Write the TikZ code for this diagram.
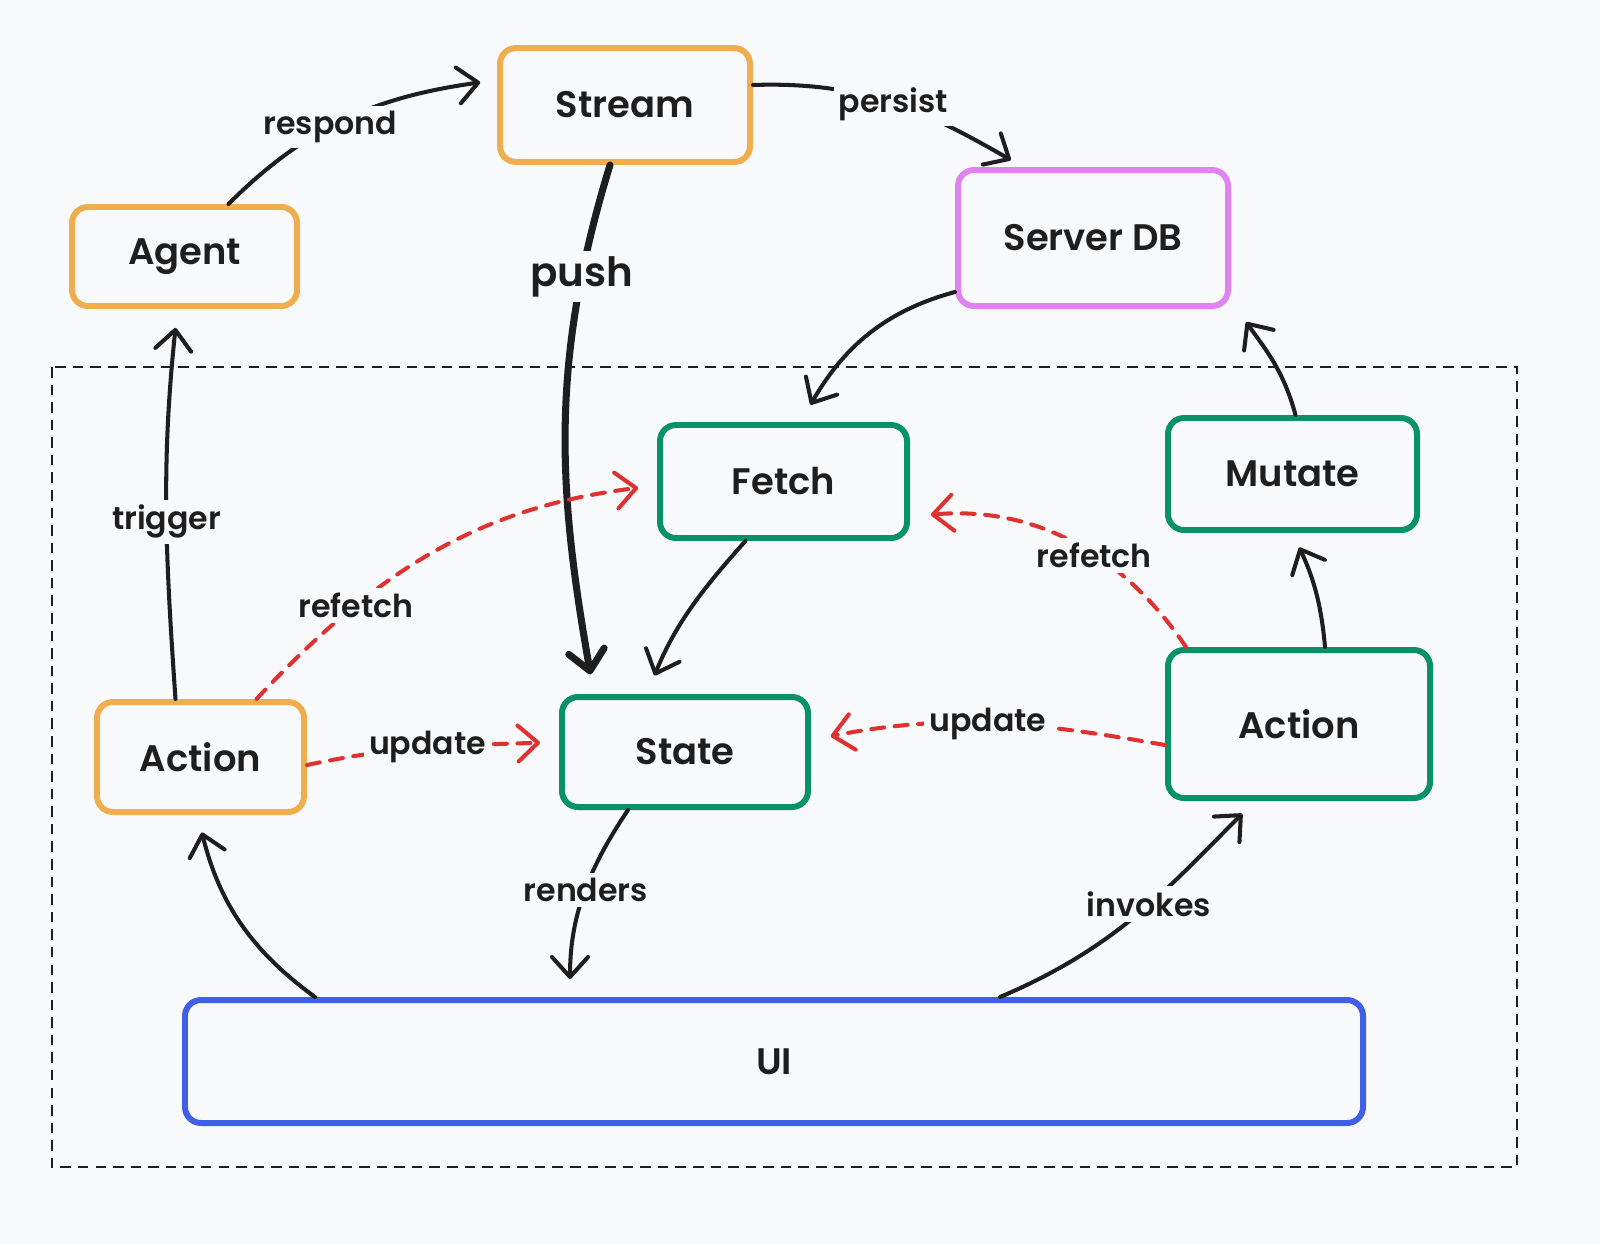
\documentclass[tikz,border=0pt]{standalone}
\usepackage{fontspec}
\setmainfont{Poppins}[BoldFont={* SemiBold}]
\usetikzlibrary{positioning, arrows.meta}

\definecolor{bgcol}{HTML}{F8F9FB}
\definecolor{inkcol}{HTML}{1E1E1E}
\definecolor{orangecol}{HTML}{F0AD4E}
\definecolor{violetcol}{HTML}{E083F0}
\definecolor{greencol}{HTML}{099268}
\definecolor{bluecol}{HTML}{3F60E6}
\definecolor{redcol}{HTML}{E03131}

\tikzset{
  box/.style={draw, line width=1.7pt, rounded corners=1.6mm, fill=bgcol,
    text=inkcol, font=\fontsize{10.5}{12}\selectfont\bfseries},
  agentbox/.style={box, draw=orangecol},
  dbbox/.style={box, draw=violetcol},
  clientbox/.style={box, draw=greencol},
  uibox/.style={box, draw=bluecol},
  flow/.style={draw=inkcol, line width=1.15pt, line cap=round,
    -{Straight Barb[length=2mm, width=3.6mm, line cap=round, line join=round]}},
  redflow/.style={flow, draw=redcol, dash pattern=on 3.7pt off 3pt},
  lbl/.style={fill=bgcol, text=inkcol, inner sep=1.5pt,
    font=\fontsize{9}{11}\selectfont\bfseries}
}

\begin{document}
\begin{tikzpicture}
  \fill[bgcol] (0,0) rectangle (16,-12.44);
  \useasboundingbox (0,0) rectangle (16,-12.44);

  % client side frame
  \draw[inkcol, line width=0.6pt, dash pattern=on 3pt off 2pt]
    (0.52,-3.67) rectangle (15.17,-11.67);

  \node[agentbox, minimum width=2.5cm, minimum height=1.14cm] (stream) at (6.25,-1.05) {Stream};
  \node[agentbox, minimum width=2.25cm, minimum height=0.99cm] (agent) at (1.845,-2.565) {Agent};
  \node[dbbox, minimum width=2.7cm, minimum height=1.36cm] (serverdb) at (10.93,-2.38) {Server DB};
  \node[clientbox, minimum width=2.47cm, minimum height=1.13cm] (fetch) at (7.835,-4.815) {Fetch};
  \node[clientbox, minimum width=2.49cm, minimum height=1.12cm] (mutate) at (12.925,-4.74) {Mutate};
  \node[agentbox, minimum width=2.07cm, minimum height=1.1cm] (actionL) at (2.005,-7.57) {Action};
  \node[clientbox, minimum width=2.46cm, minimum height=1.1cm] (state) at (6.85,-7.52) {State};
  \node[clientbox, minimum width=2.62cm, minimum height=1.48cm] (actionR) at (12.99,-7.24) {Action};
  \node[uibox, minimum width=11.78cm, minimum height=1.23cm] (ui) at (7.74,-10.615) {UI};

  % server side
  \draw[flow, shorten >=1.7mm] ([xshift=4.4mm]agent.north) to[out=45, in=188]
    node[lbl, pos=0.42] {respond} ([yshift=2.5mm]stream.west);
  \draw[flow, shorten >=1.4mm] ([yshift=2mm]stream.east) to[out=2, in=150]
    node[lbl, pos=0.5] {persist} ([xshift=-7mm]serverdb.north);
  \draw[flow, line width=2pt, shorten >=2mm] ([xshift=-1.5mm]stream.south) to[out=253, in=100]
    node[lbl, pos=0.2, font=\fontsize{11.5}{13}\selectfont\bfseries] {push} ([xshift=-9.1mm]state.north);
  \draw[flow, shorten >=2mm] ([yshift=-5.4mm]serverdb.west) to[out=195, in=60] ([xshift=1.7mm]fetch.north);
  \draw[flow, shorten >=1.6mm] ([xshift=0.3mm]mutate.north) to[out=105, in=-55] ([xshift=14.4mm]serverdb.south);

  % client side
  \draw[flow, shorten >=2mm] ([xshift=-3.8mm]fetch.south) to[out=228, in=68] ([xshift=-3.8mm]state.north);
  \draw[flow, shorten >=1.6mm] ([xshift=2.6mm]actionR.north) to[out=95, in=-65] (mutate.south);
  \draw[flow, shorten >=1.9mm] ([xshift=-2.5mm]actionL.north) to[out=94, in=264]
    node[lbl, pos=0.45] {trigger} ([xshift=-0.7mm]agent.south);
  \draw[redflow, shorten >=1.9mm] ([xshift=5.6mm]actionL.north) to[out=47, in=187]
    node[lbl, pos=0.28] {refetch} ([yshift=-0.4mm]fetch.west);
  \draw[redflow, shorten >=1.9mm] ([yshift=-0.8mm]actionL.east) to[out=12, in=182]
    node[lbl, pos=0.48] {update} ([yshift=1mm]state.west);
  \draw[redflow, shorten >=2.1mm] ([xshift=-11.3mm]actionR.north) to[out=124, in=5]
    node[lbl, pos=0.4] {refetch} ([yshift=-3.5mm]fetch.east);
  \draw[redflow, shorten >=2mm] ([yshift=-2.1mm]actionR.west) to[out=170, in=11]
    node[lbl, pos=0.5] {update} ([yshift=1.2mm]state.east);
  \draw[flow, shorten >=1.8mm] ([xshift=-5.7mm]state.south) to[out=236, in=90]
    node[lbl, pos=0.45] {renders} ([xshift=-20.4mm]ui.north);
  \draw[flow, shorten >=1.8mm] ([xshift=-45.9mm]ui.north) to[out=144, in=-76] ([xshift=-0.3mm]actionL.south);
  \draw[flow, shorten >=1.8mm] ([xshift=22.6mm]ui.north) to[out=23, in=225]
    node[lbl, pos=0.55] {invokes} ([xshift=-4.4mm]actionR.south);
\end{tikzpicture}
\end{document}
